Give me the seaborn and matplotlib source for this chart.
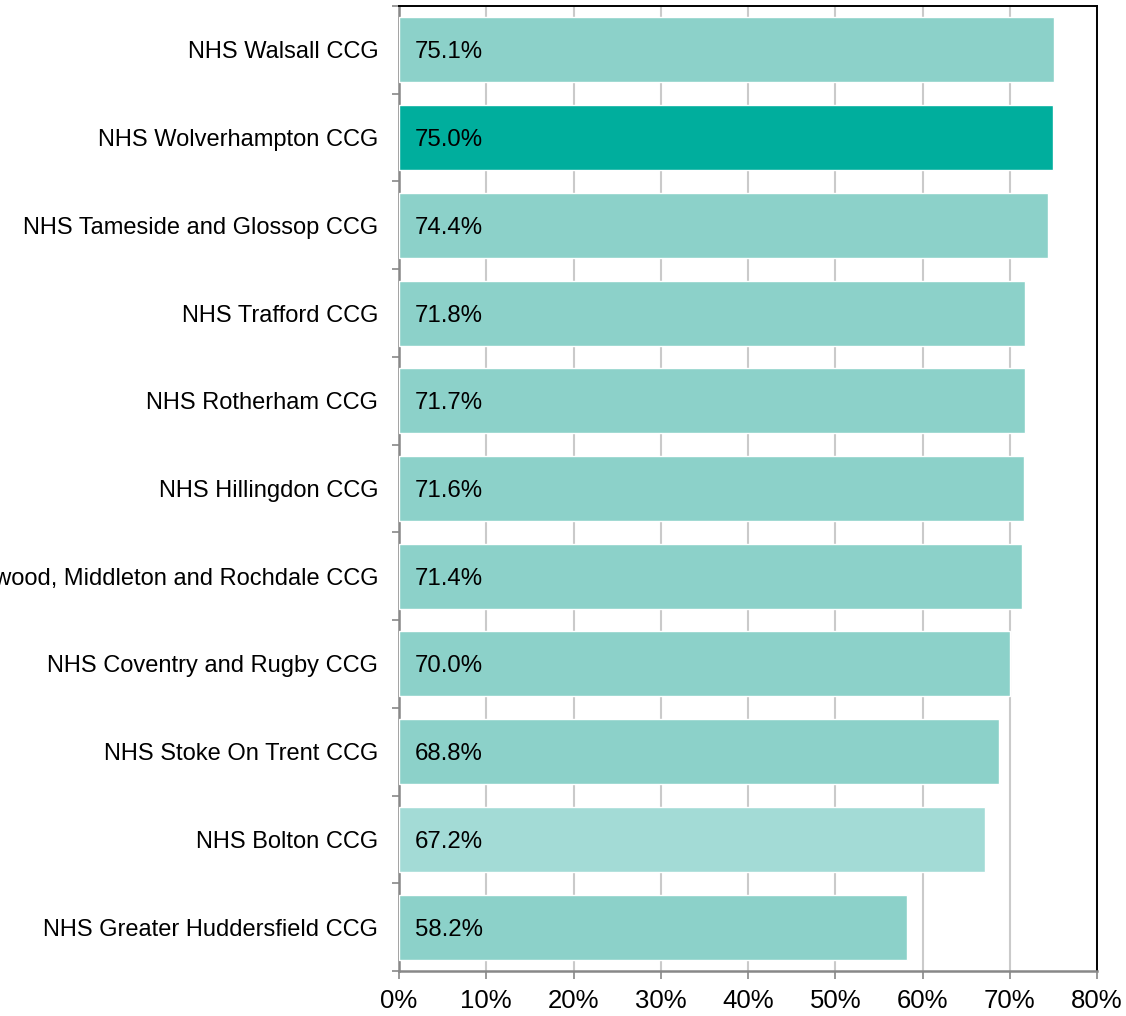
import numpy as np
import pandas as pd
import seaborn as sns
import matplotlib.pyplot as plt
from matplotlib.ticker import FixedLocator, PercentFormatter

# data, top to bottom
ccgs = [
    'NHS Walsall CCG',
    'NHS Wolverhampton CCG',
    'NHS Tameside and Glossop CCG',
    'NHS Trafford CCG',
    'NHS Rotherham CCG',
    'NHS Hillingdon CCG',
    'NHS Heywood, Middleton and Rochdale CCG',
    'NHS Coventry and Rugby CCG',
    'NHS Stoke On Trent CCG',
    'NHS Bolton CCG',
    'NHS Greater Huddersfield CCG',
]
values = [75.1, 75.0, 74.4, 71.8, 71.7, 71.6, 71.4, 70.0, 68.8, 67.2, 58.2]
highlight = 'NHS Wolverhampton CCG'
lighter = 'NHS Bolton CCG'

base_col = '#8CD1C9'
colors = []
for c in ccgs:
    if c == highlight:
        colors.append('#00AE9D')
    elif c == lighter:
        colors.append('#A3DBD6')
    else:
        colors.append(base_col)

df = pd.DataFrame({'ccg': ccgs, 'value': values})

sns.set_style('white')
plt.rcParams['font.family'] = ['Liberation Sans', 'DejaVu Sans']
plt.rcParams['text.color'] = 'black'
plt.rcParams['xtick.labelcolor'] = 'black'
plt.rcParams['ytick.labelcolor'] = 'black'

fig = plt.figure(figsize=(11.26, 10.16), dpi=100)
ax = fig.add_axes([399 / 1126, 1 - 971 / 1016, 698 / 1126, 965 / 1016])

sns.barplot(data=df, x='value', y='ccg', hue='ccg', palette=colors,
            orient='h', width=0.74, legend=False, ax=ax, zorder=3,
            saturation=1)

ax.set_xlim(0, 80)
ax.set_ylim(len(ccgs) - 0.5, -0.5)
ax.set_xticks(np.arange(0, 81, 10))
ax.xaxis.set_major_formatter(PercentFormatter(decimals=0))
ax.grid(axis='x', color='#CACACA', linewidth=1.5, zorder=0)
ax.grid(axis='y', visible=False)
ax.set_axisbelow(True)

ax.set_xlabel('')
ax.set_ylabel('')

# category boundary ticks on the y axis
ax.yaxis.set_minor_locator(FixedLocator(np.arange(-0.5, len(ccgs), 1)))
ax.tick_params(axis='y', which='major', length=0, pad=15, labelsize=17)
ax.tick_params(axis='y', which='minor', left=True, length=5, width=1.2,
               color='#888888')
ax.tick_params(axis='x', which='major', bottom=True, length=6, width=1.2,
               color='#888888', pad=7, labelsize=18.5)

for side in ['left', 'bottom']:
    ax.spines[side].set_color('#888888')
    ax.spines[side].set_linewidth(1.8)
for side in ['top', 'right']:
    ax.spines[side].set_color('#000000')
    ax.spines[side].set_linewidth(1.4)

for i, v in enumerate(values):
    ax.text(1.8, i, f'{v:.1f}%', va='center_baseline', ha='left',
            fontsize=17.3, color='black', zorder=4)

fig.savefig('out.png', dpi=100)
